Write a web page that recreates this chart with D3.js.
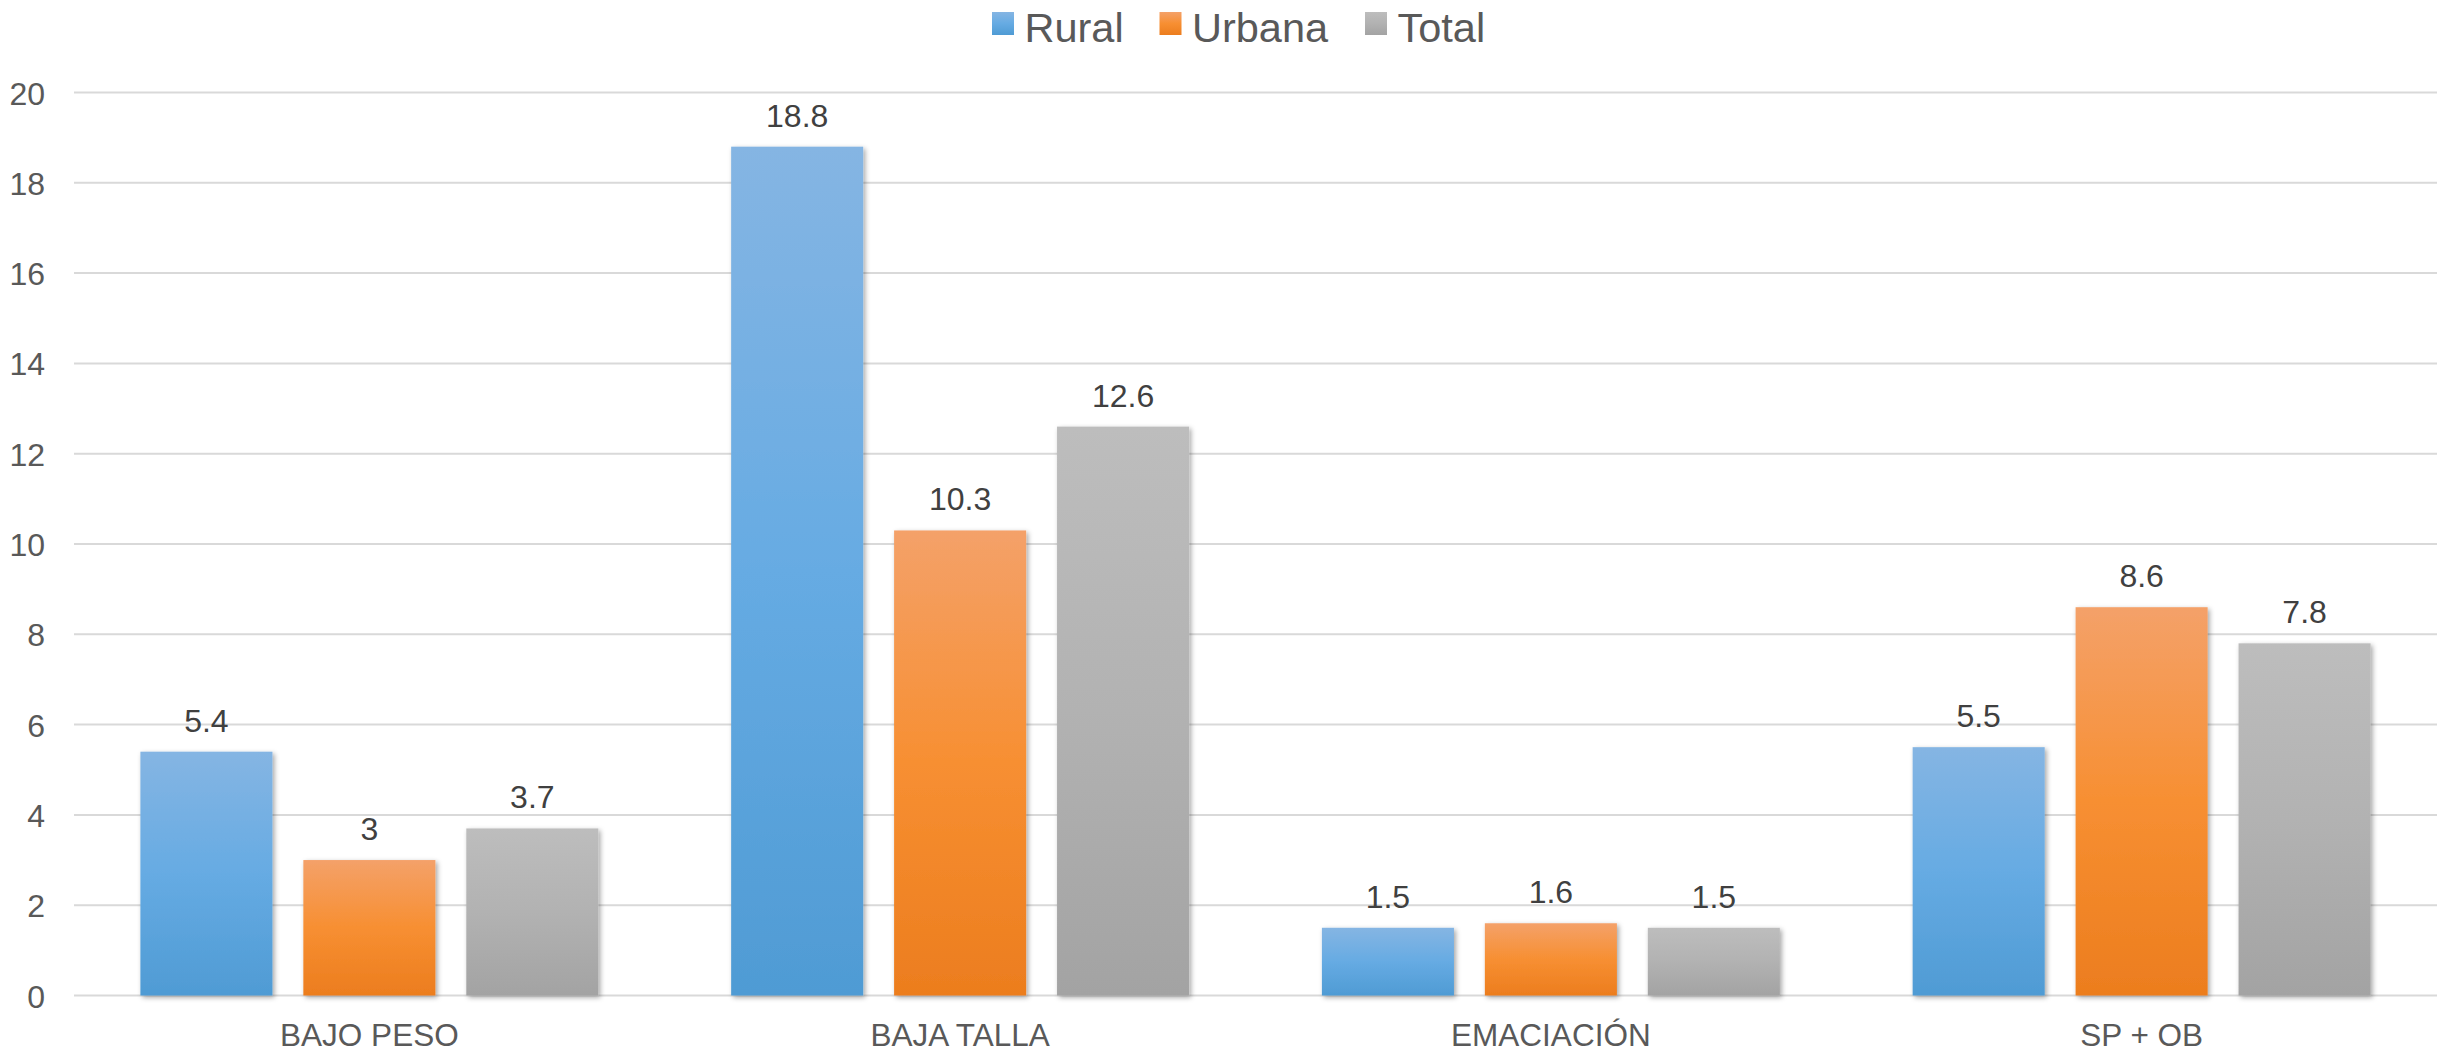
<!DOCTYPE html>
<html>
<head>
<meta charset="utf-8">
<script src="https://cdn.jsdelivr.net/npm/d3@7"></script>
<style>
  html, body { margin: 0; padding: 0; background: #fff; }
  svg { display: block; font-family: "Liberation Sans", Arial, sans-serif; }
</style>
</head>
<body>
<svg id="chart" width="2448" height="1053"></svg>
<script>
// Prevalence by area (%)
const categories = ["BAJO PESO", "BAJA TALLA", "EMACIACIÓN", "SP + OB"];
const seriesNames = ["Rural", "Urbana", "Total"];
const rural  = [5.4, 18.8, 1.5, 5.5];
const urbana = [3, 10.3, 1.6, 8.6];
const total  = [3.7, 12.6, 1.5, 7.8];
const yTicks = [0, 2, 4, 6, 8, 10, 12, 14, 16, 18, 20];

const seriesValues = [rural, urbana, total];
const gradients = [
  ["#85b5e3", "#66abe3", "#4f9bd4"],
  ["#f4a169", "#f78f32", "#ec7d1e"],
  ["#bdbdbd", "#b2b2b2", "#a3a3a3"]
];

const W = 2448, H = 1053;
const margin = { left: 74, right: 11, top: 92.5, bottom: 57.5 };
const svg = d3.select("#chart");
const defs = svg.append("defs");

gradients.forEach((stops, i) => {
  const g = defs.append("linearGradient")
    .attr("id", "grad" + i)
    .attr("x1", 0).attr("y1", 0).attr("x2", 0).attr("y2", 1);
  g.append("stop").attr("offset", "0%").attr("stop-color", stops[0]);
  g.append("stop").attr("offset", "50%").attr("stop-color", stops[1]);
  g.append("stop").attr("offset", "100%").attr("stop-color", stops[2]);
});

const shadow = defs.append("filter").attr("id", "shadow")
  .attr("x", "-10%").attr("y", "-10%").attr("width", "130%").attr("height", "130%");
shadow.append("feDropShadow")
  .attr("dx", 2).attr("dy", 2).attr("stdDeviation", 2.5)
  .attr("flood-color", "#000").attr("flood-opacity", 0.35);

const x0 = d3.scaleBand()
  .domain(categories)
  .range([margin.left, W - margin.right])
  .paddingInner(0).paddingOuter(0);

// group of three bars with inner gap, centred in each category
const groupPad = 66.4;
const x1 = d3.scaleBand()
  .domain(seriesNames)
  .range([groupPad, x0.bandwidth() - groupPad])
  .paddingInner(31 / 163.5)
  .paddingOuter(0);

const y = d3.scaleLinear()
  .domain([0, 20])
  .range([H - margin.bottom, margin.top]);

// horizontal gridlines
svg.append("g").selectAll("line")
  .data(yTicks)
  .join("line")
  .attr("x1", margin.left).attr("x2", W - margin.right)
  .attr("y1", d => y(d)).attr("y2", d => y(d))
  .attr("stroke", "#d9d9d9").attr("stroke-width", 2);

// y-axis labels
const yAxis = d3.axisLeft(y).tickValues(yTicks).tickSize(0).tickPadding(0).tickFormat(d3.format("d"));
const gy = svg.append("g").attr("transform", `translate(45,0)`).call(yAxis);
gy.select(".domain").remove();
gy.selectAll("text")
  .attr("font-size", 32).attr("fill", "#595959")
  .attr("font-family", "'Liberation Sans', Arial, sans-serif")
  .attr("dy", "0.36em");

// category labels
const xAxis = d3.axisBottom(x0).tickSize(0).tickPadding(0);
const gx = svg.append("g").attr("transform", `translate(0,${H - margin.bottom})`).call(xAxis);
gx.select(".domain").remove();
gx.selectAll("text")
  .attr("font-size", 31.5).attr("fill", "#595959")
  .attr("font-family", "'Liberation Sans', Arial, sans-serif")
  .attr("dy", null)
  .attr("y", 50);

// bars
const rows = [];
categories.forEach((c, ci) => {
  seriesNames.forEach((s, si) => {
    rows.push({ cat: c, series: s, si, value: seriesValues[si][ci] });
  });
});

const groups = svg.append("g").selectAll("g")
  .data(categories)
  .join("g")
  .attr("transform", d => `translate(${x0(d)},0)`);

groups.selectAll("rect")
  .data(c => rows.filter(r => r.cat === c))
  .join("rect")
  .attr("x", d => x1(d.series))
  .attr("width", x1.bandwidth())
  .attr("y", d => y(d.value))
  .attr("height", d => y(0) - y(d.value))
  .attr("fill", d => `url(#grad${d.si})`)
  .attr("filter", "url(#shadow)");

// value labels
groups.selectAll("text.val")
  .data(c => rows.filter(r => r.cat === c))
  .join("text")
  .attr("class", "val")
  .attr("x", d => x1(d.series) + x1.bandwidth() / 2)
  .attr("y", d => y(d.value) - 20)
  .attr("text-anchor", "middle")
  .attr("font-size", 32)
  .attr("fill", "#404040")
  .text(d => d.value);

// legend
const legendX = [992, 1159.5, 1365];
const legend = svg.append("g").selectAll("g")
  .data(seriesNames)
  .join("g")
  .attr("transform", (d, i) => `translate(${legendX[i]},0)`);
legend.append("rect")
  .attr("x", 0).attr("y", 12).attr("width", 22).attr("height", 23)
  .attr("fill", (d, i) => `url(#grad${i})`);
legend.append("text")
  .attr("x", 32.5).attr("y", 42)
  .attr("font-size", 41.5).attr("fill", "#595959")
  .text(d => d);
</script>
</body>
</html>
